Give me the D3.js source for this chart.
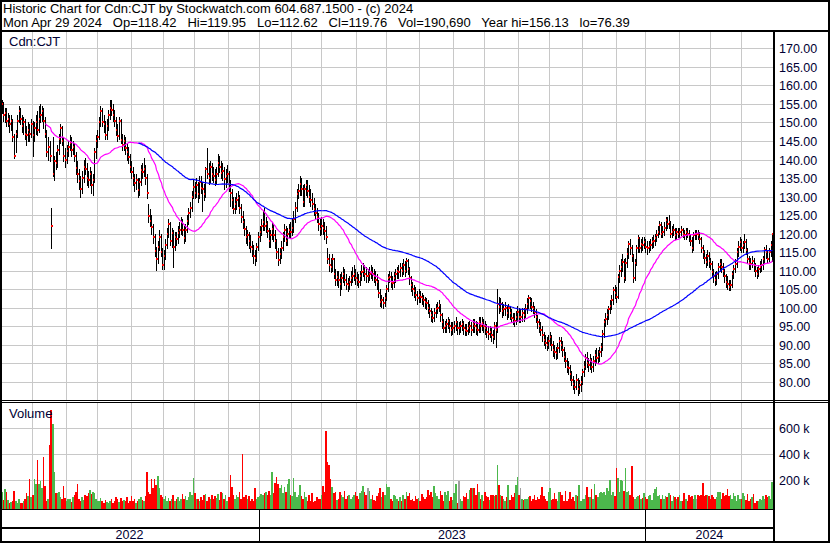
<!DOCTYPE html>
<html>
<head>
<meta charset="utf-8">
<script src="https://cdn.jsdelivr.net/npm/d3@7"></script>
<style>
  body { margin: 0; background: #fff; }
  svg { display: block; font-family: "Liberation Sans", Arial, sans-serif; }
  .grid { stroke: #c8c8c8; stroke-width: 1; shape-rendering: crispEdges; }
  .rule { stroke: #000; shape-rendering: crispEdges; }
  .lbl { font-size: 12.5px; fill: #000033; }
</style>
</head>
<body>
<script>
var HEADER_LINE_1 = "Historic Chart for Cdn:CJT by Stockwatch.com 604.687.1500 - (c) 2024";
var HEADER_LINE_2 = "Mon Apr 29 2024   Op=118.42   Hi=119.95   Lo=112.62   Cl=119.76   Vol=190,690   Year hi=156.13   lo=76.39";
var SYMBOL = "Cdn:CJT";

// trading days: weekdays from START to END minus TSX holidays
var START_DATE = "2022-04-29", END_DATE = "2024-04-29";
var HOLIDAYS = ["2022-05-23","2022-07-01","2022-08-01","2022-09-05","2022-10-10","2022-12-26","2022-12-27",
  "2023-01-02","2023-02-20","2023-04-07","2023-05-22","2023-07-03","2023-08-07","2023-09-04","2023-10-09",
  "2023-12-25","2023-12-26","2024-01-01","2024-02-19","2024-03-29"];

var PRICE_TICKS = [80, 85, 90, 95, 100, 105, 110, 115, 120, 125, 130, 135, 140, 145, 150, 155, 160, 165, 170];
var VOLUME_TICKS = [200, 400, 600]; // thousands
var MA_PERIODS = [31, 91];
var MA_COLORS = ["#ff00ff", "#0000ff"];

var CLOSE = [
  153,154,155,152,152.5,150.5,151,149.5,150.5,146,
  141,147,150.5,153,151,149,150,147,146.5,148,
  147,149.5,146.5,148.5,150,148,151,152,153,150.5,
  147,142,143.5,141,122,136,139.5,139,142.5,145.5,
  148.4,145,141,139.9,142.3,143.5,144.5,142.5,143.5,141,
  137.6,136,134.3,132,135,138,137.5,135,134.5,136,
  133,134.5,142,145,146.2,150,153.2,150.2,149.5,146.6,
  149,152,154,153.5,152,150.5,148,146.4,150.5,145.3,
  144,145,143,142,140.8,138,136.5,134.9,133.6,134.5,
  131.8,134,137.2,136.5,137.5,135,131,124.7,123.5,121.8,
  119,115.4,113,116.5,119.2,115,111.5,114,117,120,
  122.7,118,120.1,116.4,119,118.5,120.2,121,123,121,
  118.7,121,123.5,125.5,126.8,130,132.7,131,133,130.6,
  134,132.4,132,130.6,137.3,136,135.1,138,136,135.5,
  134.5,136,139,138,136.4,137,134.6,135.5,136,133.3,
  131,129,126.6,128,129,129.7,127,124.4,123,121.3,
  119,119.5,118.1,116.5,115.9,114,113.5,116.3,119,120.5,
  122.1,123,122,122.5,120.8,118,119.5,121.3,119.5,118,
  115,112.8,114.5,116,119,121,118,120,121,120.5,
  121.5,124,127,130.6,131.5,133.3,132,128.4,132,133,
  131.5,130,129,128,126.6,125.5,124.4,122.5,121.3,122,
  121.5,120.8,119,113,111.4,111,113,109,107.4,108.3,
  107.5,106.5,108,109,107.5,106.5,106,107,108,108.5,
  109,108,107.5,107,108.5,109.6,110,109,108.5,108.5,
  109.2,109.6,109,108.5,107.5,107,104,101.6,102,101.3,
  102.5,105,107.9,108.3,107,106.6,108,109,109.8,109.5,
  110.7,110,111.5,110,112.5,110.5,108,106,105,104.4,
  103.5,102.6,103.5,103,102.5,102,101.5,101.2,100,99,
  98,97.2,98.5,99.5,100,100.8,98,96,94.5,95,
  95.5,96.3,95,94,94.5,95,96,94.5,94.5,95,
  95.5,94.5,94,93.6,94.5,95,94,95.5,95,94.5,
  94,96,95,95.8,95,94.5,93.5,93,93.5,92.5,
  92.2,95,94,101,100.3,101,99,99.5,100,98.5,
  99.9,98.5,97.2,97,96.5,97.5,98.9,97.6,97.6,98.5,
  98,99.5,101,102.5,101.7,100.3,100,98.9,97.5,96,
  95,94,92.5,91.3,90.5,90,91,92,90,88.6,
  88,87.7,89,91,90,88.6,86.8,85.5,84.1,83.6,
  82,80.5,79.5,78.7,80.5,78,79,80,82.5,84.1,
  86.3,85,84.5,85.8,84,85.5,87.2,86.5,86.8,88,
  89.4,93,96.2,97,98,99.5,100.5,102,104.7,104,
  103,108.3,110,111,112.4,108,112,114.6,117.3,116,
  114,107.9,112,116,118.7,116,117.3,117,117.7,116.5,
  116,116.4,117,117.8,118,118.7,119.5,120.5,122.3,120,
  120.5,121.5,123.6,122.5,123,120,120.5,121,119.6,120.5,
  120,120.5,121,120,119.6,120.5,120,119.5,118,116,
  119.5,120,120,119.5,118.5,116,115,113.3,112.4,114,
  112.5,111.9,109.7,108.5,107.4,109,111,111.9,111,110,
  108.5,107,106.5,105.5,106,109,110.5,111.9,115,116.5,
  117.8,116,117,117.8,115.5,113,112,111.9,112.5,111.5,
  110,109.2,110.5,111,111.5,113,115.5,115,113,115,
  117,119.76
];

var HIGH = [
  155.5,156,156.1,155.5,154,154,152.5,152,152,151,
  147,148,152,154.5,154,152,151.5,151,149,150,
  149.5,151,150.5,150,152,153,154.5,155,154.5,154,
  151.5,148,146,145,127,146,141,142,144,147,
  149.5,149,146,143,144,145,146.5,146,145,144.5,
  142,139.5,137.5,135.5,137,140,140.5,139,137,138,
  137,136,143,146.5,148,151.5,154.5,154,152,150.5,
  151,153.5,156,156.13,155,153.5,151.5,149.5,151.5,151,
  147,146.5,146,144.5,143.5,141.5,139.5,138,136,136,
  135,135,138.5,139,140.5,138.5,136,128,126.5,125,
  122.5,120,116.5,118,121,120,116,115.5,118.5,121.5,
  124,123,121.5,121,120.5,120.5,122,123,124.5,124,
  122,122.5,125,127,128.5,131.5,134.5,134,135,134,
  135.5,135.5,134,133.5,138,143,139,139.5,139,138,
  137.5,138,141.5,141,139.5,139,138,137.5,138.5,137,
  134.5,132,130,130,131,131.5,130.5,128,126,124,
  122,121,120.5,119.5,118,117,115.5,117.5,120.5,122,
  124,126,127,124.5,123.5,121.5,121,123,122.5,121,
  118.5,116,116,118,120.5,122.5,122,121.5,122.5,123,
  124,126,128.5,132,133.5,135.5,135,133,133.5,134.5,
  134.5,133,132,131,129.5,128,127,125.5,124,124.5,
  124,123,122,116,114.5,113.5,114.5,113.5,110.5,110,
  110,109,109.5,111,110.5,109,108,108.5,110,111,
  111.5,110.5,109.5,109,110,111.5,112,111.5,111,110.5,
  111,111.5,111,110.5,110,109,107.5,105,103.5,103,
  104,106,109,110,109.5,108.5,109.5,110.5,111,111.5,
  112,112,113,112.5,113.4,113,111,108.5,107,106,
  105.5,104.5,105,104.5,104,103.5,103,102.5,102,101,
  100,99,100,101,101.5,102,101,98.5,97,96.5,
  97,97.5,97,96,96,96.5,97.5,96.5,96,96.5,
  97,96.5,95.5,95.5,96,96.5,96,97,97,96.5,
  96,97.5,97.5,97.5,97,96.5,95.5,95,95,94.5,
  94,96,96,105,103,102.5,101.5,101,101.5,100.5,
  101,100.5,99.5,98.5,98.5,99,100.5,100,99.5,100,
  100,101,102.5,103.5,103,102.5,101.5,100.5,99.5,98,
  97,96,95,93.5,92.5,92,92.5,93.5,92.5,91,
  90,89.5,90.5,92,92,91,89.5,88,86.5,85.5,
  84.5,83,81.5,80.5,82,81,80.5,81.5,83.5,85.5,
  87.5,88,86.5,87.5,86.5,87,88.5,89,88.5,89.5,
  90.5,94,97,98.5,99.5,100.5,102,103.5,105.5,106,
  105.5,109,111.5,113,114.5,113,113.5,116,118,118.5,
  117,114.5,113,117,119.5,119,118.5,119,119,118.5,
  118,118,118.5,119,119.5,120,121,122,123.5,123,
  122,123,124.5,124.5,125,123.5,122,122.5,121.5,121.5,
  121.5,121.5,122,121.5,121,121.5,121.5,121,120,119,
  120.5,121,121,121,120.5,119,117,115.5,114.5,115.5,
  115,113.5,112.5,110.5,109.5,110,112,113,113,112,
  110.5,109,108.5,107.5,107.5,110,111.5,113,116,118,
  119,118.5,118,120,118.5,116,114,113.5,114,113.5,
  112,111,111.5,112.5,113,114,116.5,117,115.5,116,
  118,119.95
];

var LOW = [
  151,152,152.5,150.5,150,149,149,147.5,148,145,
  140.5,142,146,150,149.5,147.5,147,145.5,144,145,
  145,146,141,145,147,146.5,147.5,150,150.5,148.5,
  146,141,140,139.5,116,135.5,134.5,137.5,138,141.5,
  144.5,144,139.5,138,139,141,142.5,141,141.5,139.5,
  136,134,132,130,131,134,136,133,132.5,133,
  131,130.5,134,140.5,143.5,145.5,149,149,147.5,145.5,
  145.5,148,151,152,150.5,149,146.5,145,145.5,144.5,
  142.5,142.5,141.5,140,139,136.5,135,133,131.5,132,
  130,130.5,133,135,135.5,133.5,129.5,123,122,120,
  117.5,114,110.2,112,115.5,114,110.5,110.5,113,116,
  119,117,116.5,111,115.5,117,117.5,119,120,119.5,
  117.5,118,120.5,122.5,124.5,126,129.5,129.5,130,128.5,
  129.5,131,126,129,130,135,133.5,134,134.5,134,
  133,133.5,135.5,136.5,135,134.5,132,132.5,134,131.5,
  127.5,127,125.5,125.5,126.5,127.5,125.5,123,121.5,119.5,
  117.5,117,116,115,114,112,111.4,112.5,115.5,118,
  119.5,121,121,120.5,119,116.5,116.5,118.5,118,116,
  113.5,111.5,112,113.5,115.5,118,117,117,119,119,
  119.5,120.5,123,126,129.5,130.5,130.5,127.5,127.5,130.5,
  130,128.5,127.5,126.5,125,124,123,121,119.5,120,
  120,118.5,117.5,112,110,109.5,110,108,106,106,
  105.5,103.5,105,107,106,105,104.5,105,106,107,
  107.5,106.5,106,105.5,106,107.5,108.5,107.5,107,107,
  107.5,108,107.5,107,106,105,103,100.5,100.3,100,
  100.5,102,104.5,107,105.5,105,105.5,107,108,108,
  108.5,108.5,109,108.5,109.5,109,106.5,104.5,103.5,103,
  102,101,101.5,101.5,101,100.5,100,99.5,98.5,97.5,
  96.5,96,96.5,97.5,98.5,99,96.5,94.5,93.5,93.5,
  93.5,94.5,93.5,92.5,93,93.5,94,93,93,93.5,
  94,93,92.5,92.5,93,93.5,92.5,93.5,93.5,93,
  92.5,93.5,93.5,94,93.5,93,92,91.5,92,91,
  90.5,91.5,89.5,93.5,98.5,99,97.5,98,98,97,
  97.5,97,96,95.5,95,95.5,96.5,96,96,96.5,
  96.5,97.5,98.5,100,100,99,98.5,97.5,96,94.5,
  93.5,92.5,91,90,89,88.5,89,90,88.5,87,
  86.5,86,86.5,88,88.5,87,85.5,84,82.5,82,
  80.5,79,78,77,78,76.39,77,77.5,79.5,81.5,
  83.5,84,83,83.5,82.5,83,84.5,85,85,85.5,
  87,88.5,92,95,95.5,97,98.5,99.5,101,102.5,
  101.5,102.5,107,108.5,110,107,107.5,111,113.5,114.5,
  112.5,107,107.5,111.5,115,115,115,115.5,116,115,
  114.5,115,115.5,116,116.5,117,118,119,120,119,
  119,119.5,121,121.5,121.5,119,119,119.5,118.5,118.5,
  119,119,119.5,119,118.5,118.5,119,118,117,115,
  115.5,118.5,118.5,118.5,117.5,115,113.5,112,111,111.5,
  111,110.5,108.5,107,106,106.5,108,110,109.5,108.5,
  107,105.5,105,104.7,104.7,105.5,108,109.5,111,114,
  115.5,115,115,116,114.5,112,110.5,110.5,111,110,
  108.5,108,108.5,109.5,110,110.5,112,113.5,112,112.5,
  114,112.62
];

// daily volume, thousands of shares
var VOLUME = [
  100,127,114,50,134,114,50,24,37,45,
  120,45,30,55,25,28,45,60,100,80,
  212,70,90,212,175,358,175,196,145,378,
  158,42,60,473,742,635,268,100,100,108,
  70,55,160,68,40,55,60,35,75,90,
  110,170,60,40,75,50,90,80,100,127,
  95,110,105,60,45,40,65,40,30,50,
  35,25,45,60,30,40,75,55,35,65,
  45,50,40,70,30,45,80,45,60,30,
  45,55,70,50,40,80,262,110,95,212,
  140,212,165,232,140,90,75,60,80,45,
  65,40,55,85,45,60,70,40,55,95,
  60,80,50,70,110,90,222,105,60,55,
  40,75,50,85,95,45,70,60,90,55,
  80,65,95,50,110,105,60,85,40,75,
  242,152,90,60,85,70,110,60,401,70,
  90,60,80,45,55,40,145,60,70,80,
  95,90,100,110,85,120,90,268,100,178,
  230,170,140,165,100,150,110,170,212,90,
  80,222,110,75,90,165,80,60,110,70,
  40,90,45,100,35,40,70,60,60,90,
  160,110,580,345,320,212,153,100,110,50,
  60,110,90,70,120,60,80,90,60,70,
  90,110,80,60,100,120,160,110,90,140,
  120,60,90,50,40,80,100,145,75,110,
  90,172,150,152,60,45,90,80,60,45,
  70,45,90,60,110,80,100,50,60,45,
  80,60,65,40,95,70,60,75,127,90,
  110,70,158,100,80,60,120,90,45,110,
  90,120,40,70,50,100,172,30,195,60,
  40,80,70,100,60,130,145,145,140,90,
  172,110,60,90,40,110,80,70,50,90,
  85,80,90,320,165,85,80,60,40,70,
  165,50,90,70,100,165,230,90,140,60,
  50,60,60,70,80,40,60,90,50,70,
  60,90,152,80,60,40,110,140,50,60,
  100,60,40,110,110,90,40,120,40,60,
  110,60,70,45,90,80,165,40,60,60,
  90,152,75,70,135,60,172,90,70,100,
  110,100,110,90,145,120,203,90,110,80,
  298,222,110,203,195,120,298,110,120,90,
  310,70,60,70,80,90,55,65,100,70,
  60,80,90,50,100,135,152,80,90,60,
  90,60,80,75,100,90,45,80,70,60,
  70,85,40,45,100,55,40,90,70,80,
  60,90,60,85,80,90,177,80,85,85,
  80,60,90,70,55,75,115,110,60,100,
  80,90,135,80,90,60,100,80,40,90,
  60,55,100,80,50,95,40,60,70,95,
  30,40,40,60,50,80,60,90,70,80,
  60,190
];

var W = 830, H = 543;
var plotLeft = 2, plotRight = 773;
var priceTop = 31, priceBottom = 400;
var volTop = 403, volBottom = 509;

var fmt = d3.utcFormat("%Y-%m-%d");
var dates = d3.utcDay.range(new Date(START_DATE + "T00:00Z"), d3.utcDay.offset(new Date(END_DATE + "T00:00Z"), 1))
  .filter(function (d) { return d.getUTCDay() % 6 !== 0 && HOLIDAYS.indexOf(fmt(d)) < 0; });

var N = Math.min(dates.length, CLOSE.length, HIGH.length, LOW.length, VOLUME.length);

var x = d3.scaleLinear().domain([0, N]).range([-2, plotRight]);
var y = d3.scaleLinear().domain([80, 170]).range([381.7, 48.4]);
var yv = d3.scaleLinear().domain([0, 600]).range([506.5, 428.3]);

function px(i) { return Math.round(x(i) + 0.6); }

var svg = d3.select("body").append("svg")
  .attr("width", W)
  .attr("height", H);

svg.append("rect").attr("width", W).attr("height", H).attr("fill", "#fff");

svg.append("clipPath").attr("id", "clip-price")
  .append("rect").attr("x", plotLeft).attr("y", priceTop)
  .attr("width", plotRight - plotLeft).attr("height", priceBottom - priceTop);
svg.append("clipPath").attr("id", "clip-vol")
  .append("rect").attr("x", plotLeft).attr("y", volTop)
  .attr("width", plotRight - plotLeft).attr("height", volBottom - volTop);

// month / year boundaries
var monthStarts = [], yearStarts = [0];
for (var i = 1; i < N; i++) {
  if (dates[i].getUTCMonth() !== dates[i - 1].getUTCMonth()) monthStarts.push(i);
  if (dates[i].getUTCFullYear() !== dates[i - 1].getUTCFullYear()) yearStarts.push(i);
}

// grid
var grid = svg.append("g");
grid.selectAll(".hp").data(PRICE_TICKS).enter().append("line")
  .attr("class", "grid")
  .attr("x1", plotLeft).attr("x2", plotRight)
  .attr("y1", function (d) { return Math.round(y(d)) + 0.5; })
  .attr("y2", function (d) { return Math.round(y(d)) + 0.5; });
grid.selectAll(".hv").data(VOLUME_TICKS).enter().append("line")
  .attr("class", "grid")
  .attr("x1", plotLeft).attr("x2", plotRight)
  .attr("y1", function (d) { return Math.round(yv(d)) + 0.5; })
  .attr("y2", function (d) { return Math.round(yv(d)) + 0.5; });
[[priceTop, priceBottom], [volTop, volBottom]].forEach(function (span) {
  grid.selectAll(null).data(monthStarts).enter().append("line")
    .attr("class", "grid")
    .attr("x1", function (d) { return Math.round(x(d)) + 0.5; })
    .attr("x2", function (d) { return Math.round(x(d)) + 0.5; })
    .attr("y1", span[0]).attr("y2", span[1]);
});

// price bars: 1px black bar high-low, red close tick drawn on top (next bar may cover it)
var bars = svg.append("g").attr("clip-path", "url(#clip-price)").style("shape-rendering", "crispEdges");
for (var b = 0; b < N; b++) {
  var bx = px(b);
  var hiY = Math.round(y(HIGH[b])), loY = Math.round(y(LOW[b])) + 1;
  bars.append("rect")
    .attr("x", bx).attr("y", hiY)
    .attr("width", 1).attr("height", Math.max(1, loY - hiY))
    .attr("fill", "#000");
  bars.append("rect")
    .attr("x", bx).attr("y", Math.round(y(CLOSE[b])) - 1)
    .attr("width", 2).attr("height", 2)
    .attr("fill", "#ff0000");
}

// moving averages
var maLayer = svg.append("g").attr("clip-path", "url(#clip-price)");
MA_PERIODS.forEach(function (p, k) {
  var ma = CLOSE.slice(0, N).map(function (c, i) {
    return i < p - 1 ? null : d3.mean(CLOSE.slice(i - p + 1, i + 1));
  });
  var line = d3.line()
    .defined(function (d) { return d !== null; })
    .x(function (d, i) { return px(i) + 0.5; })
    .y(function (d) { return y(d); });
  maLayer.append("path")
    .datum(ma)
    .attr("d", line)
    .attr("fill", "none")
    .attr("stroke", MA_COLORS[k])
    .attr("stroke-width", 1.2);
});

// volume bars
var vol = svg.append("g").attr("clip-path", "url(#clip-vol)");
vol.selectAll("rect").data(VOLUME.slice(0, N)).enter().append("rect")
  .attr("x", function (d, i) { return Math.round(x(i)); })
  .attr("width", function (d, i) { return Math.max(1, Math.round(x(i + 1)) - Math.round(x(i))); })
  .attr("y", function (d) { return Math.round(yv(d)); })
  .attr("height", function (d) { return volBottom - Math.round(yv(d)); })
  .attr("fill", function (d, i) {
    if (i === 0 || CLOSE[i] === CLOSE[i - 1]) return "#a0a0a0";
    return CLOSE[i] > CLOSE[i - 1] ? "#4cb84c" : "#ff0000";
  })
  .style("shape-rendering", "crispEdges");

// frame rules
function rule(x1, y1, x2, y2, w) {
  svg.append("line").attr("class", "rule")
    .attr("x1", x1).attr("y1", y1).attr("x2", x2).attr("y2", y2)
    .attr("stroke-width", w);
}
rule(0, 30.5, W, 30.5, 2);
rule(0, 400.5, W, 400.5, 1);
rule(0, 402.5, W, 402.5, 1);
rule(0, 509.5, 774, 509.5, 1);
rule(0, 527.5, 774, 527.5, 2);
rule(774, 31, 774, H, 2);
yearStarts.slice(1).forEach(function (i) {
  var sx = Math.round(x(i)) + 0.5;
  rule(sx, 509, sx, H, 1);
});
svg.append("rect").attr("x", 1).attr("y", 1).attr("width", W - 2).attr("height", H - 2)
  .attr("fill", "none").attr("stroke", "#000").attr("stroke-width", 2);

// header
svg.append("text").attr("x", 3).attr("y", 13)
  .style("font-size", "13px").style("white-space", "pre")
  .text(HEADER_LINE_1);
svg.append("text").attr("x", 3).attr("y", 27)
  .style("font-size", "13px").style("white-space", "pre")
  .text(HEADER_LINE_2);

// panel captions
svg.append("text").attr("class", "lbl").attr("x", 9).attr("y", 46)
  .style("font-size", "13px").text(SYMBOL);
svg.append("text").attr("class", "lbl").attr("x", 9).attr("y", 418)
  .style("font-size", "13px").text("Volume");

// right axis labels
svg.selectAll(".pl").data(PRICE_TICKS).enter().append("text")
  .attr("class", "lbl")
  .attr("x", 779)
  .attr("y", function (d) { return Math.round(y(d)) + 0.5; })
  .attr("dy", "0.36em")
  .text(function (d) { return d.toFixed(2); });
svg.selectAll(".vl").data(VOLUME_TICKS).enter().append("text")
  .attr("class", "lbl")
  .attr("x", 779)
  .attr("y", function (d) { return Math.round(yv(d)) + 0.5; })
  .attr("dy", "0.36em")
  .text(function (d) { return d + " k"; });

// year labels
var bounds = yearStarts.map(function (i) { return i === 0 ? 0 : x(i); }).concat([774]);
yearStarts.forEach(function (i, k) {
  svg.append("text").attr("class", "lbl")
    .attr("x", (bounds[k] + bounds[k + 1]) / 2)
    .attr("y", 539)
    .style("text-anchor", "middle")
    .text(dates[i].getUTCFullYear());
});
</script>
</body>
</html>
